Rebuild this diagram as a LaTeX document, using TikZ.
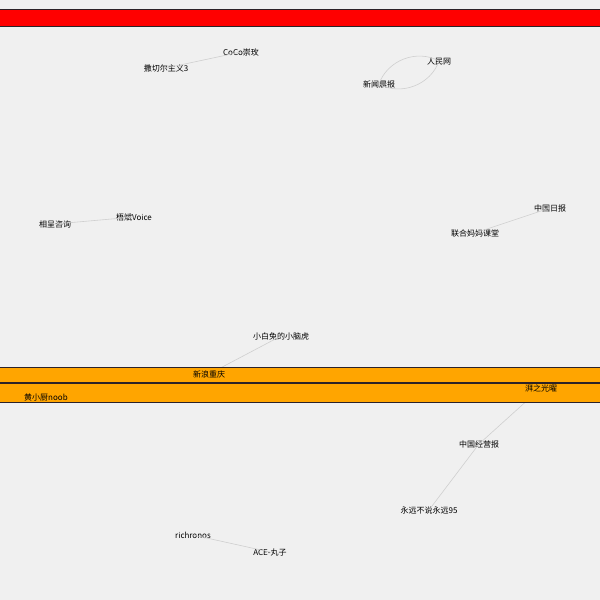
\documentclass[tikz,border=0pt]{standalone}
\usepackage{fontspec}
\setmainfont{Noto Sans CJK SC}
\definecolor{bg}{HTML}{F0F0F0}
\definecolor{edgegrey}{HTML}{CFCFCF}
\definecolor{bandline}{HTML}{2B2228}
\definecolor{bandred}{HTML}{FF0000}
\definecolor{bandorange}{HTML}{FFA500}
\tikzset{
  lbl/.style={inner sep=0pt,font=\fontsize{8}{9}\selectfont,text=black},
  link/.style={draw=edgegrey,line width=.6pt},
  band/.style={draw=bandline,line width=1pt},
}
\begin{document}
\begin{tikzpicture}[x=1pt,y=-1pt]
  \fill[bg] (0,0) rectangle (600,600);
  \useasboundingbox (0,0) rectangle (600,600);
  % nodes
  \node[lbl] (coco) at (241,52) {CoCo崇玫};
  \node[lbl] (sacher) at (166,68) {撒切尔主义3};
  \node[lbl] (renmin) at (439,61) {人民网};
  \node[lbl] (xinwen) at (379,84) {新闻晨报};
  \node[lbl] (wuvoice) at (134,217) {梧斌Voice};
  \node[lbl] (xiangcheng) at (55,224) {相呈咨询};
  \node[lbl] (chinadaily) at (550,208) {中国日报};
  \node[lbl] (lianhe) at (475,233) {联合妈妈课堂};
  \node[lbl] (xiaobai) at (281,336) {小白兔的小脑虎};
  \node[lbl] (xinlang) at (209,374) {新浪重庆};
  \node[lbl] (huang) at (46,397) {黄小厨noob};
  \node[lbl] (paizhi) at (541,388) {湃之光曜};
  \node[lbl] (jingying) at (479,444) {中国经营报};
  \node[lbl] (yongyuan) at (429,510) {永远不说永远95};
  \node[lbl] (richronos) at (193,535) {richronos};
  \node[lbl] (ace) at (270,552) {ACE-丸子};
  % links, centre to centre
  \draw[link] (coco.center) -- (sacher.center);
  \draw[link] (xinwen.center) to[bend left=50] (renmin.center);
  \draw[link] (xinwen.center) to[bend right=50] (renmin.center);
  \draw[link] (wuvoice.center) -- (xiangcheng.center);
  \draw[link] (chinadaily.center) -- (lianhe.center);
  \draw[link] (xiaobai.center) -- (xinlang.center);
  \draw[link] (paizhi.center) -- (jingying.center) -- (yongyuan.center);
  \draw[link] (richronos.center) -- (ace.center);
  % bands
  \fill[bandred] (-1,9.5) rectangle (601,26.5);
  \draw[band] (-1,9.5) -- (601,9.5) (-1,26.5) -- (601,26.5);
  \fill[bandorange] (-1,367.5) rectangle (601,402.5);
  \draw[band] (-1,367.5) -- (601,367.5) (-1,402.5) -- (601,402.5);
  \draw[band,line width=2.5pt] (-1,383) -- (601,383);
  % labels over the bands
  \foreach \n/\t in {xinlang/新浪重庆,huang/黄小厨noob,paizhi/湃之光曜}
    \node[lbl] at (\n) {\t};
\end{tikzpicture}
\end{document}
